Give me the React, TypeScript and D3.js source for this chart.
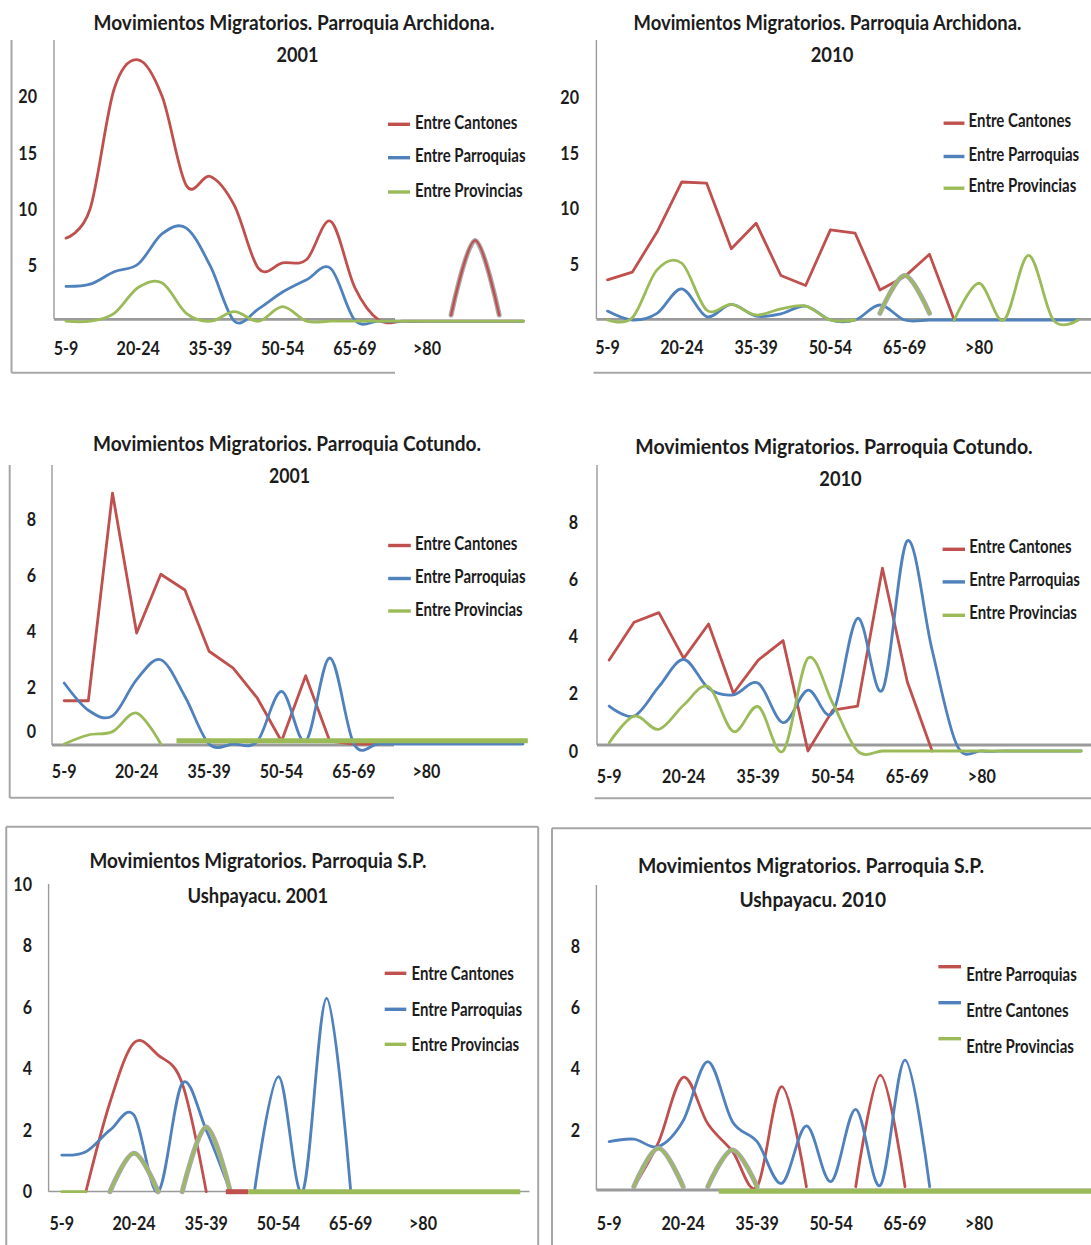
import React, { useEffect } from 'react';
import * as d3 from 'd3';

const RED = '#c0504d';
const BLUE = '#4f81bd';
const GREEN = '#9bbb59';
const SHADOW = '#a9a9a9';
const AXIS = '#9a9a9a';
const BORDER = '#a6a6a6';
const INK = '#1c1c1c';
const FONT = 'Lato, "Open Sans", "DejaVu Sans", sans-serif';
const N = null;

// age groups (labels shown every third category)
const categories = ['5-9', '10-14', '15-19', '20-24', '25-29', '30-34', '35-39', '40-44', '45-49', '50-54',
  '55-59', '60-64', '65-69', '70-74', '75-79', '>80', '', '', '', ''];
const tickCategories = categories.map((c, i) => ({ c, i })).filter((d) => d.i % 3 === 0 && d.c !== '');

// ---- Archidona 2001
const arch2001Cantones = [7.4, 10.0, 20.7, 23.3, 20.0, 12.1, 12.9, 10.3, 4.7, 5.2, 5.5, 8.9, 3.0, 0.1, 0, 0, 0, 0, 0, 0];
const arch2001CantonesPeak = [N, N, N, N, N, N, N, N, N, N, N, N, N, N, N, N, 0.55, 7.2, 0.55, N];
const arch2001Parroquias = [3.1, 3.3, 4.4, 5.1, 7.8, 8.3, 4.9, 0, 1.1, 2.6, 3.7, 4.7, 0.1, 0, 0, 0, 0, 0, 0, 0];
const arch2001Provincias = [0, 0, 0.7, 3.0, 3.4, 0.7, 0, 0.85, 0, 1.3, 0, 0, 0, 0, 0, 0, 0, 0, 0, 0];

// ---- Archidona 2010
const arch2010Cantones = [3.6, 4.3, 7.9, 12.4, 12.3, 6.4, 8.7, 4.0, 3.1, 8.1, 7.8, 2.7, 3.9, 5.9, 0, N, N, N, N, N];
const arch2010Parroquias = [0.8, 0, 0.6, 2.8, 0.3, 1.4, 0.35, 0.55, 1.25, 0, 0, 1.35, 0, 0, 0, 0, 0, 0, 0, 0];
const arch2010Provincias = [0, 0.2, 4.5, 5.1, 0.9, 1.4, 0.45, 1.0, 1.25, 0, 0, N, N, N, 0, 3.3, 0, 5.8, 0, 0];
const arch2010ProvinciasPeak = [N, N, N, N, N, N, N, N, N, N, N, 0.6, 4.0, 0.6, N, N, N, N, N, N];

// ---- Cotundo 2001
const cot2001Cantones = [1.54, 1.54, 8.93, 3.95, 6.04, 5.48, 3.3, 2.7, 1.63, 0.1, 2.43, 0.1, 0, 0, N, N, N, N, N, N];
const cot2001Parroquias = [2.17, 1.2, 1.0, 2.29, 3.0, 1.69, 0, 0, 0.1, 1.87, 0.1, 3.06, 0, 0, 0, 0, 0, 0, 0, 0];
const cot2001Provincias = [0, 0.32, 0.44, 1.1, 0, N, N, N, N, N, N, N, N, N, N, N, N, N, N, N];
const cot2001Bands = [{ color: GREEN, from: 4.65, to: 19.2, level: 0.12 }];

// ---- Cotundo 2010
const cot2010Cantones = [3.18, 4.5, 4.84, 3.24, 4.44, 2.02, 3.18, 3.86, 0, 1.43, 1.57, 6.39, 2.42, 0, N, N, N, N, N, N];
const cot2010Parroquias = [1.57, 1.22, 2.25, 3.2, 2.19, 1.96, 2.37, 0.99, 2.13, 1.34, 4.64, 2.13, 7.35, 3.53, 0.2, 0, 0, 0, 0, 0];
const cot2010Provincias = [0.29, 1.22, 0.76, 1.61, 2.25, 0.68, 1.55, 0, 3.24, 1.67, 0, 0, 0, 0, 0, 0, 0, 0, 0, 0];

// ---- S.P. Ushpayacu 2001
const ush2001Cantones = [N, 0, 2.9, 4.84, 4.44, 3.52, 0, N, N, N, N, N, N, N, N, N, N, N, N, N];
const ush2001Parroquias = [1.19, 1.3, 2.0, 2.49, 0, 3.52, 2.0, 0, N, N, N, N, N, N, N, N, N, N, N, N];
const ush2001ParroquiasLate = [N, N, N, N, N, N, N, N, 0, 3.74, 0, 6.28, 0, N, N, N, N, N, N, N];
const ush2001ProvinciasA = [0, 0, N, N, N, N, N, N, N, N, N, N, N, N, N, N, N, N, N, N];
const ush2001ProvinciasB = [N, N, 0, 1.25, 0, N, N, N, N, N, N, N, N, N, N, N, N, N, N, N];
const ush2001ProvinciasC = [N, N, N, N, N, 0, 2.1, 0, N, N, N, N, N, N, N, N, N, N, N, N];
const ush2001Bands = [
  { color: RED, from: 6.81, to: 7.74, level: 0 },
  { color: GREEN, from: 7.74, to: 19.04, level: 0 },
];

// ---- S.P. Ushpayacu 2010
const ush2010Parroquias = [N, 0.15, 1.6, 3.72, 2.2, 1.3, 0.15, 3.41, 0.15, N, 0.15, 3.79, 0.15, N, N, N, N, N, N, N];
const ush2010Cantones = [1.62, 1.7, 1.46, 2.3, 4.23, 2.27, 1.62, 0.26, 2.13, 0.32, 2.67, 0.2, 4.28, 0.15, N, N, N, N, N, N];
const ush2010ProvinciasA = [N, 0.15, 1.4, 0.15, N, N, N, N, N, N, N, N, N, N, N, N, N, N, N, N];
const ush2010ProvinciasB = [N, N, N, N, 0.15, 1.35, 0.15, N, N, N, N, N, N, N, N, N, N, N, N, N];
const ush2010Bands = [{ color: GREEN, from: 4.44, to: 19.8, level: 0 }];

const legendStd = [
  { label: 'Entre Cantones', color: RED },
  { label: 'Entre Parroquias', color: BLUE },
  { label: 'Entre Provincias', color: GREEN },
];
const legendUsh2010 = [
  { label: 'Entre Parroquias', color: RED },
  { label: 'Entre Cantones', color: BLUE },
  { label: 'Entre Provincias', color: GREEN },
];

type S = { color: string; values: (number | null)[]; smooth: boolean; shadow?: boolean };

const panels = [
  {
    title: ['Movimientos Migratorios. Parroquia Archidona.', '2001'],
    t1: { x: 294, y: 30, w: 401 }, t2: { x: 297.6, y: 61.7, w: 42 },
    xFirst: 66, xLast: 427, labelY: 348.3,
    yZero: 321.2, yUnit: 11.22, yTicks: [5, 10, 15, 20], yLabelX: 37, zeroDy: 0,
    yAxis: { x: 54, y1: 40, y2: 319 }, xAxis: { y: 319.3, x1: 54, x2: 395, w: 2.8 },
    borders: [[11.5, 40, 11.5, 372.7], [11.5, 372.7, 395, 372.7]],
    legend: { x1: 388, x2: 410, tx: 415, rows: [122.3, 155.7, 190], swDy: 2, items: legendStd },
    series: [
      { color: RED, values: arch2001Cantones, smooth: true },
      { color: RED, values: arch2001CantonesPeak, smooth: true, shadow: true },
      { color: BLUE, values: arch2001Parroquias, smooth: true },
      { color: GREEN, values: arch2001Provincias, smooth: true },
    ] as S[],
    bands: [],
  },
  {
    title: ['Movimientos Migratorios. Parroquia Archidona.', '2010'],
    t1: { x: 827.5, y: 30, w: 388 }, t2: { x: 832, y: 61.7, w: 42.7 },
    xFirst: 607.5, xLast: 979, labelY: 347.7,
    yZero: 320, yUnit: 11.13, yTicks: [5, 10, 15, 20], yLabelX: 579, zeroDy: 0,
    yAxis: { x: 596.4, y1: 40, y2: 319 }, xAxis: { y: 319.3, x1: 596.4, x2: 1091, w: 2.8 },
    borders: [[593.6, 372.7, 1091, 372.7]],
    legend: { x1: 943.6, x2: 964.4, tx: 968.6, rows: [120.7, 154, 185.7], swDy: 2.5, items: legendStd },
    series: [
      { color: RED, values: arch2010Cantones, smooth: false },
      { color: BLUE, values: arch2010Parroquias, smooth: true },
      { color: GREEN, values: arch2010Provincias, smooth: true },
      { color: GREEN, values: arch2010ProvinciasPeak, smooth: true, shadow: true },
    ] as S[],
    bands: [],
  },
  {
    title: ['Movimientos Migratorios. Parroquia Cotundo.', '2001'],
    t1: { x: 287, y: 450.7, w: 388 }, t2: { x: 289.6, y: 483.3, w: 41 },
    xFirst: 64.2, xLast: 426.4, labelY: 771.7,
    yZero: 744, yUnit: 28.1, yTicks: [0, 2, 4, 6, 8], yLabelX: 36, zeroDy: -13,
    yAxis: { x: 52, y1: 465, y2: 745 }, xAxis: { y: 745, x1: 52, x2: 394, w: 2.8 },
    borders: [[9.7, 465, 9.7, 797.7], [9.7, 797.7, 394, 797.7]],
    legend: { x1: 388.2, x2: 410.8, tx: 415, rows: [543.5, 576.5, 609], swDy: 2, items: legendStd },
    series: [
      { color: RED, values: cot2001Cantones, smooth: false },
      { color: BLUE, values: cot2001Parroquias, smooth: true },
      { color: GREEN, values: cot2001Provincias, smooth: true },
    ] as S[],
    bands: cot2001Bands,
  },
  {
    title: ['Movimientos Migratorios. Parroquia Cotundo.', '2010'],
    t1: { x: 834, y: 454.3, w: 397.5 }, t2: { x: 840.5, y: 486, w: 42.4 },
    xFirst: 609.2, xLast: 981.8, labelY: 776.7,
    yZero: 751, yUnit: 28.6, yTicks: [0, 2, 4, 6, 8], yLabelX: 578, zeroDy: 0,
    yAxis: { x: 597, y1: 465, y2: 745 }, xAxis: { y: 745, x1: 597, x2: 1091, w: 2.8 },
    borders: [[594.7, 798.3, 1091, 798.3]],
    legend: { x1: 942.6, x2: 965, tx: 969.3, rows: [546.7, 579.3, 612.7], swDy: 2.6, items: legendStd },
    series: [
      { color: RED, values: cot2010Cantones, smooth: false },
      { color: BLUE, values: cot2010Parroquias, smooth: true },
      { color: GREEN, values: cot2010Provincias, smooth: true },
    ] as S[],
    bands: [],
  },
  {
    title: ['Movimientos Migratorios. Parroquia S.P.', 'Ushpayacu. 2001'],
    t1: { x: 258, y: 868.3, w: 337 }, t2: { x: 257.8, y: 903.3, w: 140.5 },
    xFirst: 61.8, xLast: 423, labelY: 1223.3,
    yZero: 1191.7, yUnit: 30.77, yTicks: [0, 2, 4, 6, 8, 10], yLabelX: 32, zeroDy: 0,
    yAxis: { x: 48.6, y1: 884, y2: 1191.7 }, xAxis: { y: 1191.5, x1: 48.6, x2: 529.5, w: 1.5 },
    borders: [[6.25, 1250, 6.25, 826.7], [6.25, 826.7, 538.2, 826.7], [538.2, 826.7, 538.2, 1250]],
    legend: { x1: 384.7, x2: 406.3, tx: 411.5, rows: [973.3, 1009.3, 1044.3], swDy: 0, items: legendStd },
    series: [
      { color: RED, values: ush2001Cantones, smooth: true },
      { color: BLUE, values: ush2001Parroquias, smooth: true },
      { color: BLUE, values: ush2001ParroquiasLate, smooth: true },
      { color: GREEN, values: ush2001ProvinciasA, smooth: true },
      { color: GREEN, values: ush2001ProvinciasB, smooth: true, shadow: true },
      { color: GREEN, values: ush2001ProvinciasC, smooth: true, shadow: true },
    ] as S[],
    bands: ush2001Bands,
  },
  {
    title: ['Movimientos Migratorios. Parroquia S.P.', 'Ushpayacu. 2010'],
    t1: { x: 811, y: 872.7, w: 346 }, t2: { x: 812.7, y: 907.3, w: 146.6 },
    xFirst: 609.2, xLast: 979, labelY: 1223.3,
    yZero: 1191.3, yUnit: 30.67, yTicks: [2, 4, 6, 8], yLabelX: 580, zeroDy: 0,
    yAxis: { x: 596.4, y1: 885, y2: 1190 }, xAxis: { y: 1190, x1: 596.4, x2: 1091, w: 2.8 },
    borders: [[552, 1250, 552, 828.3], [552, 828.3, 1100, 828.3]],
    legend: { x1: 938.4, x2: 961, tx: 966.2, rows: [974, 1010, 1046], swDy: -7.3, items: legendUsh2010 },
    series: [
      { color: RED, values: ush2010Parroquias, smooth: true },
      { color: BLUE, values: ush2010Cantones, smooth: true },
      { color: GREEN, values: ush2010ProvinciasA, smooth: true, shadow: true },
      { color: GREEN, values: ush2010ProvinciasB, smooth: true, shadow: true },
    ] as S[],
    bands: ush2010Bands,
  },
];

const Txt = ({ x, y, anchor = 'start', size, weight = 700, children, sx }: any) => (
  <text
    transform={`translate(${x},${y}) scale(${sx},1)`}
    textAnchor={anchor}
    dy="0.36em"
    fontSize={size}
    fontWeight={weight}
    fontFamily={FONT}
    fill={INK}
  >
    {children}
  </text>
);

function PanelView({ p }: { p: (typeof panels)[number] }) {
  const x = d3.scaleLinear().domain([0, 15]).range([p.xFirst, p.xLast]);
  const y = d3.scaleLinear().domain([0, 1]).range([p.yZero, p.yZero - p.yUnit]);
  const mk = (smooth: boolean) =>
    d3
      .line<number | null>()
      .defined((d) => d !== null)
      .x((_, i) => x(i))
      .y((d) => y(d as number))
      .curve(smooth ? d3.curveCardinal.tension(0) : d3.curveLinear);
  const bandLine = d3
    .line<[number, number]>()
    .x((d) => x(d[0]))
    .y((d) => y(d[1]));

  return (
    <g>
      {p.borders.map((b, i) => (
        <line key={'b' + i} x1={b[0]} y1={b[1]} x2={b[2]} y2={b[3]} stroke={BORDER} strokeWidth={2} />
      ))}
      <text x={p.t1.x} y={p.t1.y} textAnchor="middle" fontSize={21} fontWeight={700} fontFamily={FONT} fill={INK}
        textLength={p.t1.w} lengthAdjust="spacingAndGlyphs">{p.title[0]}</text>
      <text x={p.t2.x} y={p.t2.y} textAnchor="middle" fontSize={21} fontWeight={700} fontFamily={FONT} fill={INK}
        textLength={p.t2.w} lengthAdjust="spacingAndGlyphs">{p.title[1]}</text>
      {p.yTicks.map((t) => (
        <Txt key={'yt' + t} x={p.yLabelX} y={y(t) + (t === 0 ? p.zeroDy : 0)} anchor="end" size={18.5} sx={0.87}>
          {String(t)}
        </Txt>
      ))}
      {tickCategories.map((d) => (
        <Txt key={'xt' + d.i} x={x(d.i)} y={p.labelY} anchor="middle" size={18.5} sx={0.87}>
          {d.c}
        </Txt>
      ))}
      <line x1={p.yAxis.x} y1={p.yAxis.y1} x2={p.yAxis.x} y2={p.yAxis.y2} stroke={AXIS} strokeWidth={1.4} />
      <line x1={p.xAxis.x1} y1={p.xAxis.y} x2={p.xAxis.x2} y2={p.xAxis.y} stroke={AXIS} strokeWidth={p.xAxis.w} />
      {p.series.map((s, i) => {
        const d = mk(s.smooth)(s.values) || '';
        return (
          <g key={'s' + i}>
            {s.shadow && (
              <path d={d} fill="none" stroke={SHADOW} strokeWidth={5} strokeLinejoin="round" strokeLinecap="round" />
            )}
            <path d={d} fill="none" stroke={s.color} strokeWidth={s.shadow ? 2.4 : 2.8}
              strokeLinejoin="round" strokeLinecap="round" />
          </g>
        );
      })}
      {p.bands.map((b, i) => (
        <path key={'band' + i} d={bandLine([[b.from, b.level], [b.to, b.level]]) || ''}
          fill="none" stroke={b.color} strokeWidth={5} />
      ))}
      {p.legend.items.map((it, i) => (
        <g key={'lg' + i}>
          <line x1={p.legend.x1} x2={p.legend.x2} y1={p.legend.rows[i] + p.legend.swDy}
            y2={p.legend.rows[i] + p.legend.swDy} stroke={it.color} strokeWidth={3.4} />
          <Txt x={p.legend.tx} y={p.legend.rows[i]} size={18.5} weight={700} sx={0.81}>
            {it.label}
          </Txt>
        </g>
      ))}
    </g>
  );
}

export default function App() {
  useEffect(() => {
    document.body.style.margin = '0';
  }, []);
  return (
    <svg
      width={1091}
      height={1245}
      viewBox="0 0 1091 1245"
      style={{ position: 'absolute', left: 0, top: 0, background: '#fff', display: 'block' }}
    >
      <rect x={0} y={0} width={1091} height={1245} fill="#fff" />
      {panels.map((p, i) => (
        <PanelView key={i} p={p} />
      ))}
    </svg>
  );
}
